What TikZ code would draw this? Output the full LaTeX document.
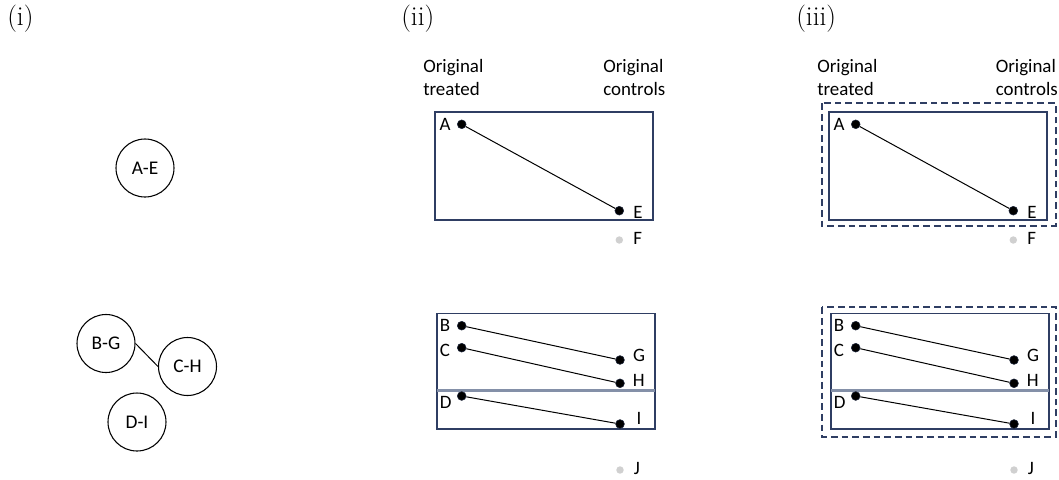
\documentclass[tikz,border=0pt]{standalone}
\usepackage{fontspec}
\newfontfamily\carlito{Carlito}
\definecolor{navy}{HTML}{2F3E63}
\definecolor{divgray}{HTML}{8490A8}
\definecolor{dotgray}{HTML}{D0D0D0}
\begin{document}
\begin{tikzpicture}[x=0.75pt,y=-0.75pt,
  lbl/.style={font=\carlito\fontsize{14.2}{17}\selectfont, inner sep=0pt},
  panel/.style={font=\fontsize{20.5}{24}\selectfont, inner sep=0pt},
  pair/.style={circle, draw, line width=0.8pt, minimum size=43.5pt, inner sep=0pt, font=\carlito\fontsize{14.5}{17}\selectfont},
  dot/.style={circle, fill=black, draw=navy!60!black, line width=0.4pt, minimum size=6.6pt, inner sep=0pt},
  gdot/.style={circle, fill=dotgray, minimum size=5.6pt, inner sep=0pt},
  link/.style={line width=0.75pt},
  box/.style={draw=navy, line width=0.9pt},
  grp/.style={draw=navy, line width=1.75pt, dash pattern=on 5pt off 3pt},
  div/.style={draw=divgray, line width=2pt}]
\useasboundingbox (0,0) rectangle (1059,479);

% panel labels
\node[panel, anchor=base west] (p1) at (7,25) {(i)};
\node[panel, anchor=base west] (p2) at (401,25) {(ii)};
\node[panel, anchor=base west] (p3) at (796,25) {(iii)};

% panel (i)
\node[pair] (ae) at (145,168) {A-E};
\node[pair] (bg) at (106,343.5) {B-G};
\node[pair] (ch) at (187.5,366.5) {C-H};
\node[pair] (di) at (137,422) {D-I};
\draw[link] (bg.east) -- (ch.west);

% panel (ii)
\node[lbl, anchor=base west] (o2a) at (423,72.7) {Original};
\node[lbl, anchor=base west] (t2a) at (423,95) {treated};
\node[lbl, anchor=base west] (o2b) at (603,72.7) {Original};
\node[lbl, anchor=base west] (t2b) at (603,95) {controls};

\draw[box] (435,112) rectangle (653,220);
\node[dot] (a2) at (461.7,124.3) {};
\node[dot] (e2) at (619.3,210.7) {};
\node[gdot] (f2) at (619.3,240) {};
\draw[link] (a2) -- (e2);
\node[lbl, anchor=base] (la2) at (445,130.7) {A};
\node[lbl, anchor=base] (le2) at (638,218.3) {E};
\node[lbl, anchor=base] (lf2) at (637.7,244.5) {F};

\draw[box] (437,313.7) rectangle (655,390.7);
\draw[box] (437,390.7) rectangle (655,429);
\draw[div] (437,390.7) -- (655,390.7);
\node[dot] (b2) at (461.7,325.7) {};
\node[dot] (c2) at (461.7,347.7) {};
\node[dot] (d2) at (461.7,396) {};
\node[dot] (g2) at (620,360) {};
\node[dot] (h2) at (620,383.3) {};
\node[dot] (i2) at (620,424) {};
\node[gdot] (j2) at (620,470) {};
\draw[link] (b2) -- (g2);
\draw[link] (c2) -- (h2);
\draw[link] (d2) -- (i2);
\node[lbl, anchor=base] (lb2) at (445,331.7) {B};
\node[lbl, anchor=base] (lc2) at (445,356.7) {C};
\node[lbl, anchor=base] (ld2) at (445.7,408.3) {D};
\node[lbl, anchor=base] (lg2) at (639,361.7) {G};
\node[lbl, anchor=base] (lh2) at (638.7,386) {H};
\node[lbl, anchor=base] (li2) at (639,424) {I};
\node[lbl, anchor=base] (lj2) at (637,474) {J};

% panel (iii)
\node[lbl, anchor=base west] (o3a) at (817,72.7) {Original};
\node[lbl, anchor=base west] (t3a) at (817,95) {treated};
\node[lbl, anchor=base west] (o3b) at (995.5,72.7) {Original};
\node[lbl, anchor=base west] (t3b) at (995.5,95) {controls};

\draw[grp] (821.7,103.3) rectangle (1055.7,225.7);
\draw[box] (829,112) rectangle (1047,220);
\node[dot] (a3) at (855.7,124.3) {};
\node[dot] (e3) at (1013.3,210.7) {};
\node[gdot] (f3) at (1013.3,240) {};
\draw[link] (a3) -- (e3);
\node[lbl, anchor=base] (la3) at (839,130.7) {A};
\node[lbl, anchor=base] (le3) at (1032,218.3) {E};
\node[lbl, anchor=base] (lf3) at (1031.7,244.5) {F};

\draw[grp] (821.7,307.3) rectangle (1055.7,436.7);
\draw[box] (831,313.7) rectangle (1049,390.7);
\draw[box] (831,390.7) rectangle (1049,429);
\draw[div] (831,390.7) -- (1049,390.7);
\node[dot] (b3) at (855.7,325.7) {};
\node[dot] (c3) at (855.7,347.7) {};
\node[dot] (d3) at (855.7,396) {};
\node[dot] (g3) at (1014,360) {};
\node[dot] (h3) at (1014,383.3) {};
\node[dot] (i3) at (1014,424) {};
\node[gdot] (j3) at (1014,470) {};
\draw[link] (b3) -- (g3);
\draw[link] (c3) -- (h3);
\draw[link] (d3) -- (i3);
\node[lbl, anchor=base] (lb3) at (839,331.7) {B};
\node[lbl, anchor=base] (lc3) at (839,356.7) {C};
\node[lbl, anchor=base] (ld3) at (839.7,408.3) {D};
\node[lbl, anchor=base] (lg3) at (1033,361.7) {G};
\node[lbl, anchor=base] (lh3) at (1032.7,386) {H};
\node[lbl, anchor=base] (li3) at (1033,424) {I};
\node[lbl, anchor=base] (lj3) at (1031,474) {J};
\end{tikzpicture}
\end{document}
